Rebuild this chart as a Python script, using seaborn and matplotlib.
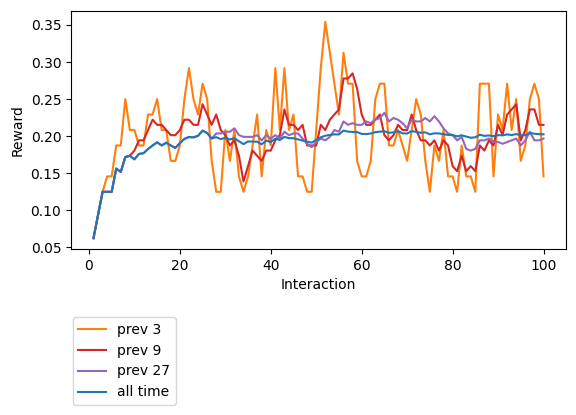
import numpy as np
import pandas as pd
import seaborn as sns
import matplotlib.pyplot as plt

# moving averages of the reward
interaction = np.arange(1, 101)

prev_3 = [
    0.0625, 0.0938, 0.125, 0.1458, 0.1458, 0.1875, 0.1875, 0.25, 0.2083, 0.2083,
    0.1875, 0.1875, 0.2292, 0.2292, 0.25, 0.2083, 0.2083, 0.1667, 0.1667, 0.1875,
    0.25, 0.2917, 0.25, 0.2292, 0.2708, 0.25, 0.1667, 0.125, 0.125, 0.2083,
    0.1667, 0.2083, 0.1458, 0.125, 0.1458, 0.1875, 0.2292, 0.1458, 0.2083, 0.1875,
    0.2917, 0.2083, 0.2917, 0.2083, 0.2292, 0.1458, 0.1458, 0.125, 0.125, 0.2083,
    0.2917, 0.3542, 0.3125, 0.2708, 0.2292, 0.3125, 0.2708, 0.2708, 0.1667, 0.1458,
    0.1458, 0.1667, 0.25, 0.2708, 0.2708, 0.1875, 0.1875, 0.2083, 0.1875, 0.1667,
    0.2083, 0.25, 0.2292, 0.1667, 0.125, 0.1875, 0.1667, 0.2083, 0.1458, 0.1458,
    0.125, 0.1875, 0.1458, 0.1458, 0.125, 0.2708, 0.2708, 0.2708, 0.1458, 0.2292,
    0.2083, 0.2708, 0.2083, 0.25, 0.1667, 0.1875, 0.25, 0.2708, 0.25, 0.1458,
]

prev_9 = [
    0.0625, 0.0938, 0.125, 0.125, 0.125, 0.1563, 0.1518, 0.1719, 0.1736, 0.1806,
    0.1944, 0.1944, 0.2083, 0.2222, 0.2153, 0.2153, 0.2083, 0.2014, 0.2014, 0.2083,
    0.2222, 0.2222, 0.2153, 0.2153, 0.2431, 0.2292, 0.2153, 0.2292, 0.2083, 0.2014,
    0.1875, 0.1944, 0.1736, 0.1389, 0.1597, 0.1806, 0.1736, 0.1667, 0.1806, 0.1806,
    0.1944, 0.2014, 0.2361, 0.2153, 0.2153, 0.2083, 0.2153, 0.1875, 0.1875, 0.1875,
    0.2153, 0.2083, 0.2222, 0.2292, 0.2361, 0.2778, 0.2778, 0.2847, 0.2639, 0.2292,
    0.2153, 0.2153, 0.2222, 0.2292, 0.2014, 0.1944, 0.2014, 0.2153, 0.2083, 0.2083,
    0.2292, 0.2083, 0.1944, 0.1944, 0.1875, 0.1944, 0.1806, 0.1944, 0.1875, 0.1597,
    0.1528, 0.1736, 0.1528, 0.1597, 0.1528, 0.1875, 0.1806, 0.1944, 0.1875, 0.2153,
    0.2014, 0.2292, 0.2361, 0.2431, 0.1944, 0.2083, 0.2361, 0.2361, 0.2153, 0.2153,
]

prev_27 = [
    0.0625, 0.0938, 0.125, 0.125, 0.125, 0.1563, 0.1518, 0.1719, 0.1736, 0.1688,
    0.1761, 0.1771, 0.1827, 0.1875, 0.1917, 0.1875, 0.1912, 0.1875, 0.1842, 0.1906,
    0.1964, 0.1989, 0.1984, 0.2005, 0.2075, 0.2043, 0.1968, 0.2037, 0.2037, 0.2060,
    0.2060, 0.2106, 0.2014, 0.1991, 0.1991, 0.1991, 0.2014, 0.1944, 0.2014, 0.1968,
    0.2014, 0.1968, 0.2060, 0.2014, 0.2037, 0.2037, 0.1968, 0.1898, 0.1852, 0.1921,
    0.1968, 0.1944, 0.1991, 0.2083, 0.2060, 0.2199, 0.2153, 0.2176, 0.2153, 0.2153,
    0.2199, 0.2176, 0.2222, 0.2245, 0.2315, 0.2199, 0.2245, 0.2222, 0.2176, 0.2106,
    0.2222, 0.2199, 0.2199, 0.2245, 0.2199, 0.2269, 0.2199, 0.2106, 0.2037, 0.2014,
    0.1944, 0.1991, 0.1829, 0.1806, 0.1829, 0.1944, 0.1944, 0.1968, 0.1921, 0.1921,
    0.1898, 0.1921, 0.1944, 0.1968, 0.1875, 0.1944, 0.2060, 0.1944, 0.1944, 0.1968,
]

all_time = [
    0.0625, 0.0938, 0.125, 0.125, 0.125, 0.1563, 0.1518, 0.1719, 0.1736, 0.1688,
    0.1761, 0.1771, 0.1827, 0.1875, 0.1917, 0.1875, 0.1912, 0.1875, 0.1842, 0.1906,
    0.1964, 0.1989, 0.1984, 0.2005, 0.2075, 0.2043, 0.1968, 0.1987, 0.1961, 0.1979,
    0.1956, 0.1973, 0.1932, 0.1893, 0.1929, 0.1927, 0.1926, 0.1891, 0.1939, 0.1922,
    0.1966, 0.1949, 0.1991, 0.1974, 0.1972, 0.1957, 0.1941, 0.1927, 0.1913, 0.1950,
    0.1985, 0.2007, 0.2017, 0.2025, 0.2023, 0.2076, 0.2061, 0.2058, 0.2055, 0.2031,
    0.2029, 0.2036, 0.2054, 0.2061, 0.2067, 0.2045, 0.2052, 0.2068, 0.2038, 0.2036,
    0.2069, 0.2057, 0.2046, 0.2052, 0.2025, 0.2039, 0.2037, 0.2027, 0.2017, 0.2016,
    0.1998, 0.2012, 0.1995, 0.1979, 0.1985, 0.2020, 0.2004, 0.2010, 0.2001, 0.2014,
    0.2012, 0.2024, 0.2016, 0.2028, 0.2013, 0.2012, 0.2043, 0.2034, 0.2027, 0.2025,
]

series_names = ["prev 3", "prev 9", "prev 27", "all time"]
palette = {
    "prev 3": "#ff7f0e",
    "prev 9": "#d62728",
    "prev 27": "#9467bd",
    "all time": "#1f77b4",
}

df = pd.DataFrame({
    "Interaction": interaction,
    "prev 3": prev_3,
    "prev 9": prev_9,
    "prev 27": prev_27,
    "all time": all_time,
})
df_long = df.melt(id_vars="Interaction", var_name="window", value_name="Reward")

fig = plt.figure(figsize=(5.76, 4.15), dpi=100)
ax = fig.add_axes([71 / 576, 1 - 249 / 415, 495 / 576, 238 / 415])

sns.lineplot(data=df_long, x="Interaction", y="Reward", hue="window",
             hue_order=series_names, palette=palette, estimator=None,
             linewidth=1.5, ax=ax)

# legend sits under the axes, without the hue title
handles, labels = ax.get_legend_handles_labels()
ax.get_legend().remove()
fig.legend(handles, labels, loc="upper left",
           bbox_to_anchor=(72.7 / 576, 1 - 317 / 415), borderaxespad=0)

fig.savefig("out.png", dpi=100)
